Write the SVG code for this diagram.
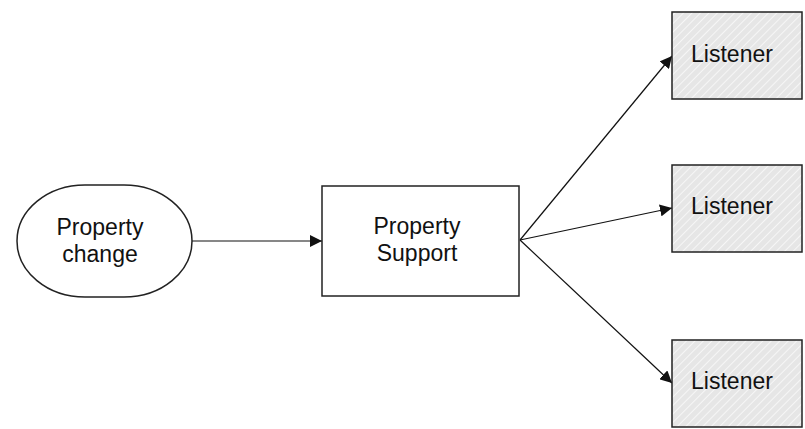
<svg xmlns="http://www.w3.org/2000/svg" width="805" height="429" viewBox="0 0 805 429">
<style>
.shape{stroke:#222;stroke-width:1.5;}
.plain{fill:#fff;}
.hatch{fill:url(#hatch);}
.t{font-family:"Liberation Sans",Arial,sans-serif;font-size:23px;fill:#111;text-anchor:middle;}
.edge{stroke:#111;stroke-width:1.2;fill:none;marker-end:url(#arr);}
</style>
<defs>
<pattern id="hatch" patternUnits="userSpaceOnUse" width="6" height="6" patternTransform="rotate(45)">
<rect width="6" height="6" fill="#e6e6e6"/>
<line x1="0" y1="0" x2="0" y2="6" stroke="#f6f6f6" stroke-width="2"/>
</pattern>
<marker id="arr" viewBox="0 0 10 10" refX="10" refY="5" markerWidth="12" markerHeight="12" markerUnits="userSpaceOnUse" orient="auto">
<path d="M0,0 L10,5 L0,10 z" fill="#111"/>
</marker>
</defs>
<rect width="805" height="429" fill="#fff"/>
<g id="connectors">
<line class="edge" x1="192" y1="241" x2="322" y2="241"/>
<line class="edge" x1="520" y1="240" x2="672" y2="56"/>
<line class="edge" x1="520" y1="240" x2="672" y2="208"/>
<line class="edge" x1="520" y1="240" x2="672" y2="383"/>
</g>
<g id="property-change">
<rect class="shape plain" x="17" y="185" width="175" height="112" rx="68" ry="56"/>
<text class="t" x="100" y="235">Property</text>
<text class="t" x="100" y="262">change</text>
</g>
<g id="property-support">
<rect class="shape plain" x="322" y="186" width="197" height="110"/>
<text class="t" x="417" y="234">Property</text>
<text class="t" x="417" y="261">Support</text>
</g>
<g id="listener1">
<rect class="shape hatch" x="672" y="12" width="130" height="87"/>
<text class="t" x="732" y="62">Listener</text>
</g>
<g id="listener2">
<rect class="shape hatch" x="672" y="165" width="130" height="87"/>
<text class="t" x="732" y="214">Listener</text>
</g>
<g id="listener3">
<rect class="shape hatch" x="672" y="340" width="130" height="87"/>
<text class="t" x="732" y="389">Listener</text>
</g>
</svg>
